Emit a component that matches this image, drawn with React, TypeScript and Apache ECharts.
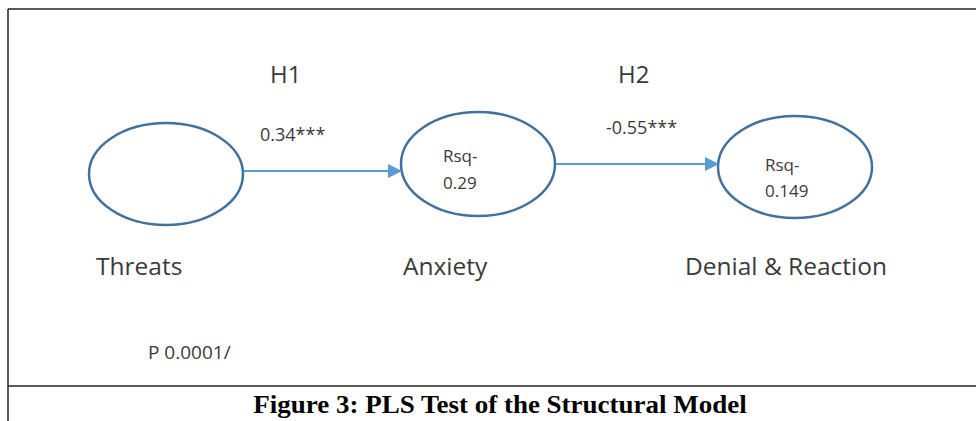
import React, { useEffect, useRef } from "react";
import * as echarts from "echarts";

// Diagram content
const constructs = ["Threats", "Anxiety", "Denial & Reaction"];
const rsqValues = ["", "0.29", "0.149"];
const hypotheses = ["H1", "H2"];
const pathCoefficients = ["0.34***", "-0.55***"];
const pNote = "P 0.0001/";
const caption = "Figure 3: PLS Test of the Structural Model";

// Layout (positions / sizes)
const nodeLayout = [
  { cx: 166, cy: 174, rx: 77, ry: 51, lx: 96, rsqX: 443, rsqY1: 155, rsqY2: 182 },
  { cx: 478, cy: 164, rx: 77, ry: 52, lx: 403, rsqX: 443, rsqY1: 155, rsqY2: 182 },
  { cx: 795, cy: 167, rx: 77, ry: 51, lx: 685, rsqX: 765, rsqY1: 164, rsqY2: 190 },
];
const edgeLayout = [
  { x1: 244, x2: 401, y: 171, hx: 270, hy: 73, cx: 260, cy: 134 },
  { x1: 556, x2: 718, y: 164, hx: 618, hy: 73, cx: 606, cy: 127 },
];

const FONT = "'Open Sans', 'Noto Sans', sans-serif";
const TEXT_COLOR = "#3a3a3a";
const ELLIPSE_COLOR = "#41719C";
const ARROW_COLOR = "#5B9BD5";

export default function App() {
  const ref = useRef<HTMLDivElement>(null);
  useEffect(() => {
    document.body.style.margin = "0";
    if (!ref.current) return;
    const chart = echarts.init(ref.current, undefined, { renderer: "svg" });
    const elements: any[] = [];

    // frame
    elements.push({ type: "line", shape: { x1: 8, y1: 9, x2: 976, y2: 9 }, style: { stroke: "#222", lineWidth: 1.5 } });
    elements.push({ type: "line", shape: { x1: 8, y1: 9, x2: 8, y2: 421 }, style: { stroke: "#222", lineWidth: 1.5 } });
    elements.push({ type: "line", shape: { x1: 8, y1: 386, x2: 976, y2: 386 }, style: { stroke: "#222", lineWidth: 1.5 } });

    constructs.forEach((name, i) => {
      const n = nodeLayout[i];
      elements.push({
        type: "ellipse",
        shape: { cx: n.cx, cy: n.cy, rx: n.rx, ry: n.ry },
        style: { fill: "#fff", stroke: ELLIPSE_COLOR, lineWidth: 2.5 },
      });
      elements.push({
        type: "text",
        x: n.lx,
        y: 265,
        style: { text: name, fill: TEXT_COLOR, font: `24.5px ${FONT}`, verticalAlign: "middle", align: "left" },
      });
      if (rsqValues[i]) {
        elements.push({
          type: "text",
          x: n.rsqX,
          y: n.rsqY1,
          style: { text: "Rsq-", fill: TEXT_COLOR, font: `17px ${FONT}`, verticalAlign: "middle", align: "left" },
        });
        elements.push({
          type: "text",
          x: n.rsqX,
          y: n.rsqY2,
          style: { text: rsqValues[i], fill: TEXT_COLOR, font: `17px ${FONT}`, verticalAlign: "middle", align: "left" },
        });
      }
    });

    edgeLayout.forEach((e, i) => {
      elements.push({
        type: "line",
        shape: { x1: e.x1, y1: e.y, x2: e.x2 - 10, y2: e.y },
        style: { stroke: ARROW_COLOR, lineWidth: 2 },
      });
      elements.push({
        type: "polygon",
        shape: { points: [[e.x2 - 13, e.y - 7], [e.x2 + 1, e.y], [e.x2 - 13, e.y + 7]] },
        style: { fill: ARROW_COLOR },
      });
      elements.push({
        type: "text",
        x: e.hx,
        y: e.hy,
        style: { text: hypotheses[i], fill: TEXT_COLOR, font: `24px ${FONT}`, verticalAlign: "middle", align: "left" },
      });
      elements.push({
        type: "text",
        x: e.cx,
        y: e.cy,
        style: { text: pathCoefficients[i], fill: TEXT_COLOR, font: `18px ${FONT}`, verticalAlign: "middle", align: "left" },
      });
    });

    elements.push({
      type: "text",
      x: 148,
      y: 352,
      style: { text: pNote, fill: TEXT_COLOR, font: `19px ${FONT}`, verticalAlign: "middle", align: "left" },
    });
    elements.push({
      type: "text",
      x: 500,
      y: 405,
      scaleX: 1.08,
      style: {
        text: caption,
        fill: "#000",
        font: `bold 25px 'Liberation Serif', 'DejaVu Serif', serif`,
        verticalAlign: "middle",
        align: "center",
      },
    });

    chart.setOption({ animation: false, backgroundColor: "#fff", graphic: { elements } });
    return () => chart.dispose();
  }, []);
  return <div ref={ref} style={{ width: 976, height: 421 }} />;
}
